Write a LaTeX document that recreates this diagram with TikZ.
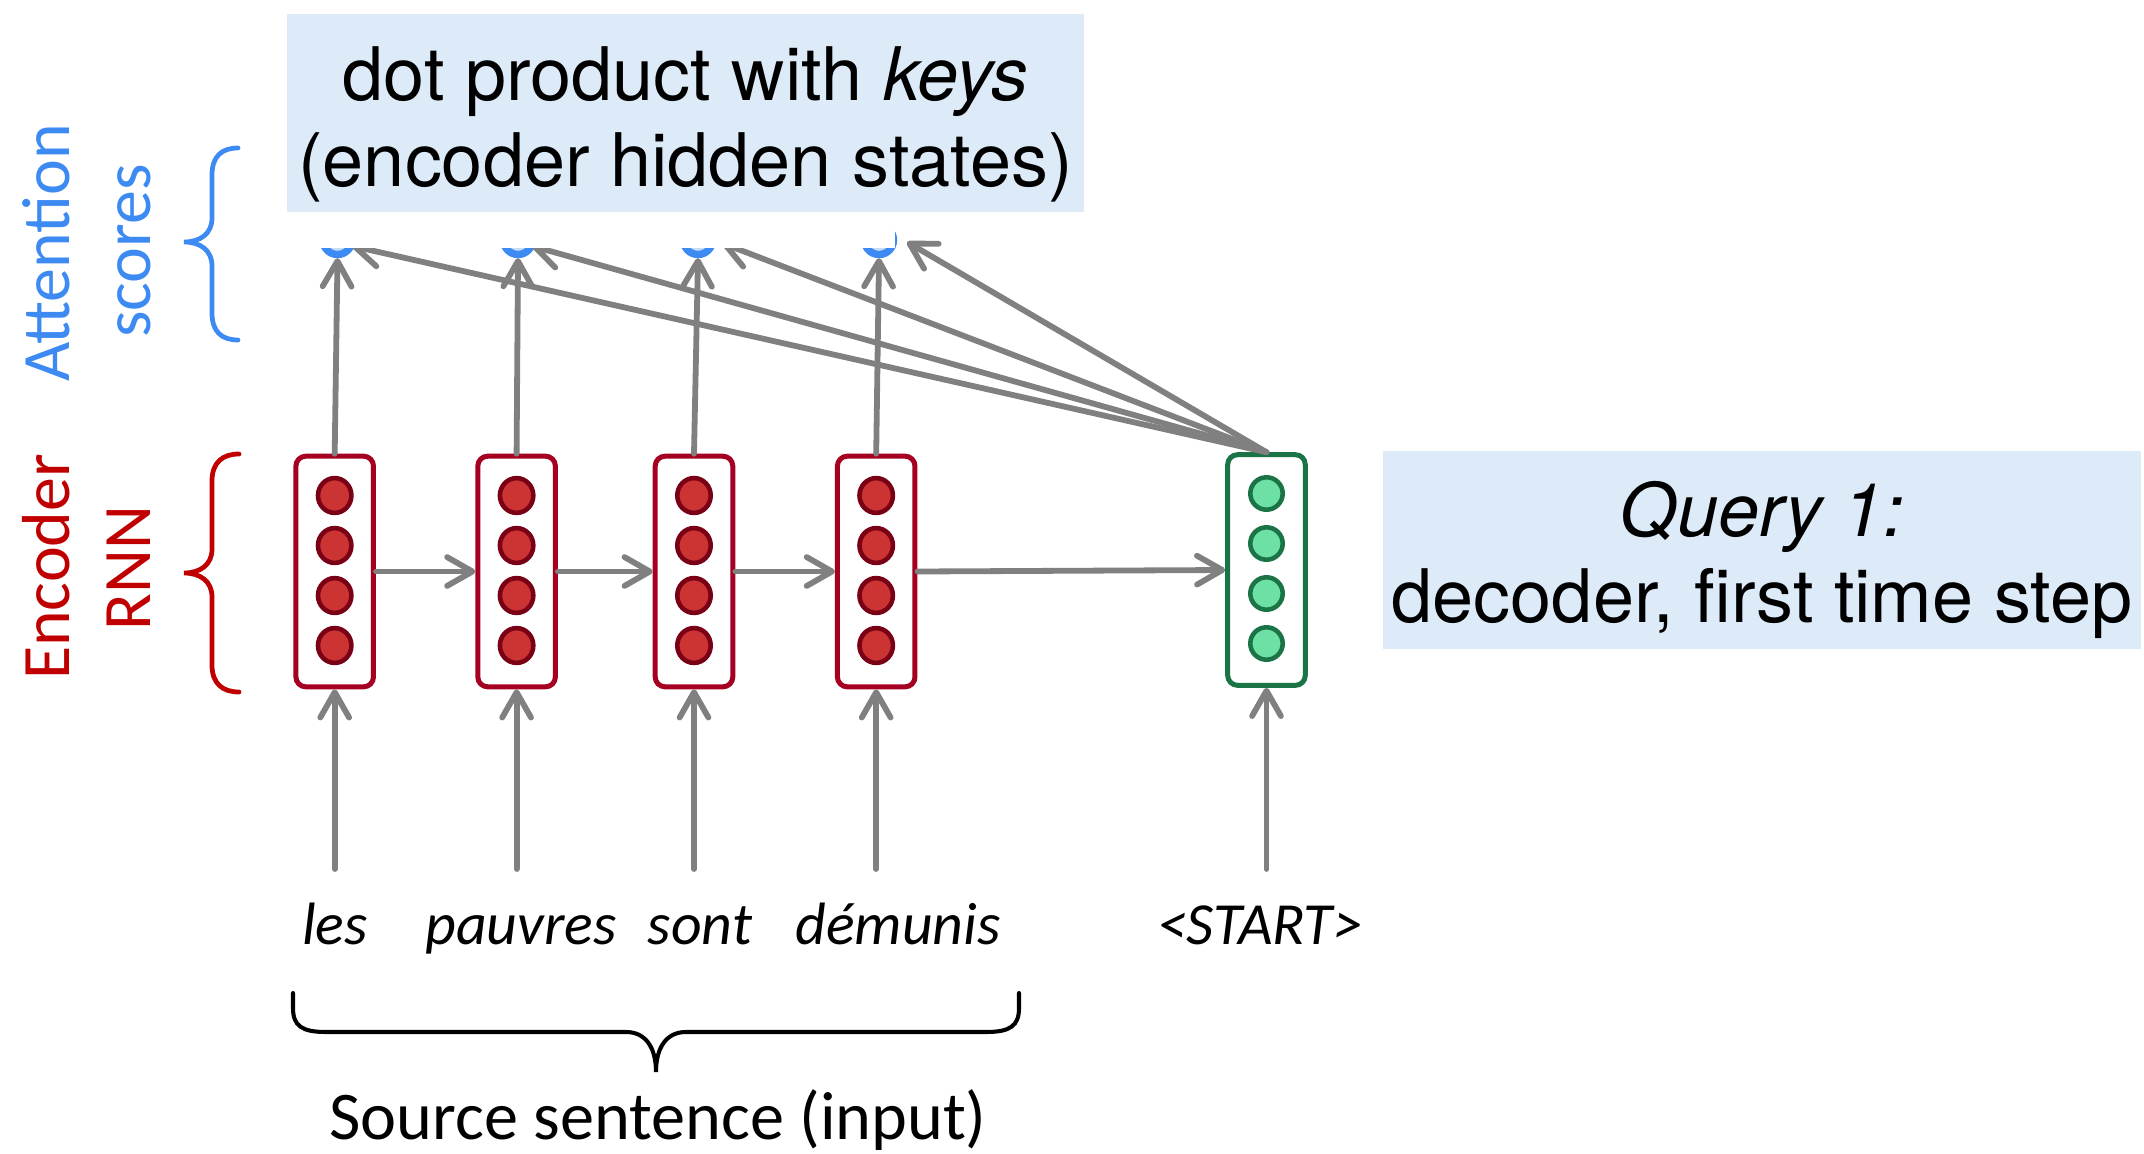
\documentclass[tikz,border=0pt]{standalone}
\usepackage{fontspec}
\setmainfont{Carlito}
\newfontfamily\helv{TeX Gyre Heros}
\usetikzlibrary{arrows.meta}
\definecolor{arrgray}{HTML}{808080}
\definecolor{encred}{HTML}{A50021}
\definecolor{encfill}{HTML}{CC3333}
\definecolor{encdark}{HTML}{7A0016}
\definecolor{decgreen}{HTML}{1A7446}
\definecolor{decfill}{HTML}{6DE0A6}
\definecolor{boxblue}{HTML}{DDEBF8}
\definecolor{attblue}{HTML}{3D8BF2}
\definecolor{labred}{HTML}{C00000}
\begin{document}
\begin{tikzpicture}[x=0.01cm, y=-0.01cm,
  arr/.style={draw=arrgray, line width=1.65pt, line cap=round,
    -{Straight Barb[length=7.2pt, width=8.2pt, line cap=round, line join=round]}},
  ebox/.style={draw=encred, line width=1.42pt, fill=white, rounded corners=2.8pt,
    minimum width=0.775cm, minimum height=2.305cm, inner sep=0pt},
  dbox/.style={ebox, draw=decgreen},
  ecirc/.style={draw=encdark, fill=encfill, line width=1.3pt},
  dcirc/.style={draw=decgreen, fill=decfill, line width=1.3pt},
  bcirc/.style={circle, draw=attblue, fill=attblue!30, line width=2.1pt,
    minimum size=0.29cm, inner sep=0pt},
  qbox/.style={fill=boxblue, inner sep=0pt},
  qtext/.style={align=center, inner sep=0pt, font=\helv\fontsize{21}{24.5}\selectfont},
  word/.style={anchor=base, inner sep=0pt, font=\fontsize{17}{20}\selectfont\itshape},
  sidelab/.style={rotate=90, anchor=base, inner sep=0pt, font=\fontsize{19.3}{23}\selectfont},
  brc/.style={line width=1.35pt, line cap=round}
]
\useasboundingbox (0,0) rectangle (2144,1154);

% blue text boxes
\node[qbox, minimum width=7.97cm, minimum height=1.98cm] (keys) at (685.5,113) {};
\node[qtext] (keyst) at (685.5,124)
  {dot product with \textit{keys}\\(encoder hidden states)};
\node[qbox, minimum width=7.58cm, minimum height=1.98cm] (query) at (1762,550) {};
\node[qtext] (queryt) at (1762,560)
  {\textit{Query 1:}\\decoder, first time step};

% encoder / decoder boxes
\foreach \n/\x in {e1/334.7, e2/516.6, e3/694, e4/876.2} {
  \node[ebox] (\n) at (\x,571.5) {};
  \foreach \dy in {-75,-25,25,75}
    \draw[ecirc] (\x,570.5+\dy) ellipse [x radius=0.167cm, y radius=0.174cm];
}
\node[dbox] (d) at (1266.5,570) {};
\foreach \dy in {-75,-25,25,75}
  \draw[dcirc] (1266.5,568.5+\dy) circle [radius=0.162cm];

% attention score circles and arrows (partly hidden)
\coordinate (t1) at (352,246);
\coordinate (t2) at (532,246);
\coordinate (t3) at (722,243);
\coordinate (t4) at (907,242);
\begin{scope}
  \clip (0,248) -- (895,248) -- (895,224) -- (2144,224) -- (2144,1154) -- (0,1154) -- cycle;
  \node[bcirc] (b1) at (337.5,240) {};
  \node[bcirc] (b2) at (518,240) {};
  \node[bcirc] (b3) at (698,240) {};
  \node[bcirc] (b4) at (879,240) {};
  \draw[arr] (e1.north) -- (b1.south);
  \draw[arr] (e2.north) -- (b2.south);
  \draw[arr] (e3.north) -- (b3.south);
  \draw[arr] (e4.north) -- (b4.south);
  \draw[arr] (d.north) -- (t1);
  \draw[arr] (d.north) -- (t2);
  \draw[arr] (d.north) -- (t3);
  \draw[arr] (d.north) -- (t4);
\end{scope}

% recurrent arrows
\draw[arr] (e1.east) -- (e2.west);
\draw[arr] (e2.east) -- (e3.west);
\draw[arr] (e3.east) -- (e4.west);
\draw[arr] (e4.east) -- (d.west);

% input arrows
\coordinate (inY) at (0,869);
\foreach \n in {e1,e2,e3,e4,d}
  \draw[arr] (\n.south |- inY) -- (\n.south);

% words
\node[word] (w1) at (335,944) {les};
\node[word] (w2) at (521,944) {pauvres};
\node[word] (w3) at (700,944) {sont};
\node[word] (w4) at (898,944) {démunis};
\node[word] (w5) at (1260,944) {\textless START\textgreater};

% source brace
\draw[line width=1.15pt, line cap=round] (293,993) -- (293,1008)
  .. controls (293,1026) and (302,1032) .. (326,1032) -- (626,1032)
  .. controls (646,1032) and (656,1048) .. (656,1072)
  .. controls (656,1048) and (666,1032) .. (686,1032) -- (986,1032)
  .. controls (1010,1032) and (1019,1026) .. (1019,1008) -- (1019,993);
\node[anchor=base, inner sep=0pt, font=\fontsize{19.4}{23}\selectfont] (src) at (658,1139)
  {Source sentence (input)};

% side labels and braces
\node[sidelab, text=attblue] (att1) at (70,253) {Attention};
\node[sidelab, text=attblue] (att2) at (150,251) {scores};
\node[sidelab, text=labred] (enc1) at (70,567) {Encoder};
\node[sidelab, text=labred] (enc2) at (150,568) {RNN};

\draw[brc, attblue] (238,148) .. controls (222,148) and (212,156) .. (212,175)
  -- (212,218) .. controls (212,234) and (200,242) .. (184,242)
  .. controls (200,242) and (212,250) .. (212,266)
  -- (212,313) .. controls (212,332) and (222,340) .. (238,340);
\draw[brc, labred] (239,454) .. controls (223,454) and (212,462) .. (212,481)
  -- (212,549) .. controls (212,565) and (200,573) .. (184,573)
  .. controls (200,573) and (212,581) .. (212,597)
  -- (212,665) .. controls (212,684) and (223,692) .. (239,692);
\end{tikzpicture}
\end{document}
